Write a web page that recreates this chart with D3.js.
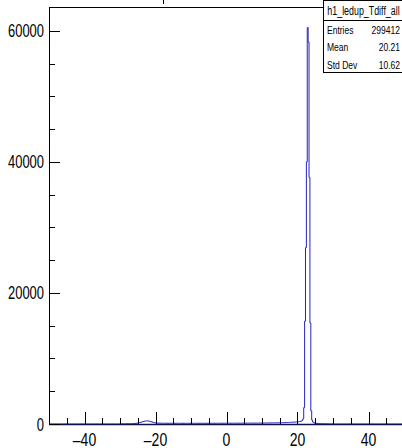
<!DOCTYPE html>
<html><head><meta charset="utf-8">
<script src="https://cdn.jsdelivr.net/npm/d3@7"></script>
<style>
html,body{margin:0;padding:0;background:#fff;}
svg{display:block;}
text{font-family:"Liberation Sans",Arial,sans-serif;}
</style></head>
<body>
<script>
// ---- data ----
const histName = "h1_ledup_Tdiff_all";
const xRange = [-50, 50];
const binWidth = 0.25;
const binStart = -30;            // low edge of first listed bin
const counts = [
  // -30 .. -25
  20,25,20,30,25,30,35,30,40,35,45,40,50,55,60,70,80,90,110,130,
  // -25 .. -20
  160,190,220,260,300,340,380,420,450,470,480,470,450,420,380,330,290,250,210,180,
  // -20 .. -15
  160,150,140,130,130,120,125,120,115,120,115,110,120,115,110,115,110,120,115,110,
  // -15 .. -10
  110,115,110,105,110,115,110,105,110,100,105,110,105,100,110,105,100,105,110,105,
  // -10 .. -5
  100,105,110,105,100,110,105,100,110,105,100,110,115,105,110,100,110,105,110,115,
  // -5 .. 0
  110,105,115,110,105,110,115,110,120,115,110,115,120,110,115,120,115,110,120,115,
  // 0 .. 5
  120,115,125,120,115,120,125,120,115,125,120,130,125,120,130,125,120,130,125,130,
  // 5 .. 10
  130,125,135,130,125,135,130,140,135,130,140,135,145,140,135,145,140,150,145,140,
  // 10 .. 15
  150,145,155,150,160,155,150,160,165,160,170,165,175,170,180,175,185,180,190,185,
  // 15 .. 20
  195,190,200,210,205,215,220,230,225,240,250,245,260,270,265,280,290,300,310,320,
  // 20 .. 25
  330,350,370,400,450,550,800,2500,15700,26900,40000,60500,58300,37600,15400,2000,600,300,200,150,
  // 25 .. 30
  120,100,90,80,70,60,55,50,45,40,35,30,30,25,25,20,20,15,15,10
];
const yMax = 63630;
const xMajorTicks = [-40, -20, 0, 20, 40];
const xMinorTicks = [-45,-35,-30,-25,-15,-10,-5,5,10,15,25,30,35,45];
const yMajorTicks = [0, 20000, 40000, 60000];
const yMinorTicks = [5000,10000,15000,25000,30000,35000,45000,50000,55000];
const statLabels = ["Entries", "Mean", "Std Dev"];
const statValues = ["299412", "20.21", "10.62"];

// ---- layout ----
const W = 402, H = 448;
const frame = {left: 49, right: 404, top: 7, bottom: 424};
const svg = d3.select("body").append("svg").attr("width", W).attr("height", H);

const x = d3.scaleLinear().domain(xRange).range([frame.left, frame.right]);
const y = d3.scaleLinear().domain([0, yMax]).range([frame.bottom, frame.top]);

// condensed text helper (narrow sans look)
function ntext(parent, tx, ty, s, anchor, size, sx) {
  return parent.append("text")
    .attr("transform", `translate(${tx},${ty}) scale(${sx},1)`)
    .attr("text-anchor", anchor).attr("font-size", size).text(s);
}

// full set of bins over range
const nBins = Math.round((xRange[1] - xRange[0]) / binWidth);
const startIdx = Math.round((binStart - xRange[0]) / binWidth);
const bins = d3.range(nBins).map(i => {
  const j = i - startIdx;
  return {x0: xRange[0] + i * binWidth, v: (j >= 0 && j < counts.length) ? counts[j] : 0};
});
const pts = bins.map(b => [b.x0, b.v]);
pts.push([xRange[1], 0]);

svg.append("clipPath").attr("id", "fc").append("rect")
  .attr("x", frame.left).attr("y", frame.top - 1)
  .attr("width", frame.right - frame.left).attr("height", frame.bottom - frame.top + 2);

// histogram
const line = d3.line().x(d => x(d[0])).y(d => y(d[1])).curve(d3.curveStepAfter);
svg.append("path").datum(pts).attr("clip-path", "url(#fc)")
  .attr("d", line).attr("fill", "none").attr("stroke", "#2424c0").attr("stroke-width", 1);

// frame
const g = svg.append("g").attr("stroke", "#000").attr("stroke-width", 1).attr("fill", "none");
g.append("line").attr("x1", frame.left + 0.5).attr("x2", frame.left + 0.5).attr("y1", frame.top).attr("y2", frame.bottom + 1);
g.append("line").attr("x1", frame.left).attr("x2", frame.right).attr("y1", frame.top + 0.5).attr("y2", frame.top + 0.5);
g.append("line").attr("x1", frame.left).attr("x2", frame.right).attr("y1", frame.bottom + 0.5).attr("y2", frame.bottom + 0.5).attr("stroke", "#10104a").attr("stroke-width", 1.6);

// y ticks
yMajorTicks.forEach(v => g.append("line").attr("x1", frame.left).attr("x2", frame.left + 11)
  .attr("y1", Math.round(y(v)) + 0.5).attr("y2", Math.round(y(v)) + 0.5));
yMinorTicks.forEach(v => g.append("line").attr("x1", frame.left).attr("x2", frame.left + 6)
  .attr("y1", Math.round(y(v)) + 0.5).attr("y2", Math.round(y(v)) + 0.5));
// x ticks
xMajorTicks.forEach(v => g.append("line").attr("x1", Math.round(x(v)) + 0.5).attr("x2", Math.round(x(v)) + 0.5)
  .attr("y1", frame.bottom).attr("y2", frame.bottom - 12));
xMinorTicks.forEach(v => g.append("line").attr("x1", Math.round(x(v)) + 0.5).attr("x2", Math.round(x(v)) + 0.5)
  .attr("y1", frame.bottom).attr("y2", frame.bottom - 6));

// tick labels
yMajorTicks.forEach(v => ntext(svg, frame.left - 5, y(v) + 6.5, String(v), "end", 17.5, 0.74));
xMajorTicks.forEach(v => ntext(svg, x(v), 446, v < 0 ? "\u2013" + Math.abs(v) : String(v), "middle", 17.5, 0.8));

// title remnant (title is cut off above the canvas)
svg.append("line").attr("x1", 163.5).attr("x2", 163.5).attr("y1", 0).attr("y2", 4).attr("stroke", "#000");

// stats box
const sb = {x: 323, y: 0.5, w: 90, rowH: 17.5, titleH: 19.5};
const sg = svg.append("g");
const sbH = sb.titleH + statLabels.length * sb.rowH;
sg.append("rect").attr("x", sb.x + 0.5).attr("y", sb.y).attr("width", sb.w).attr("height", sbH)
  .attr("fill", "#fff").attr("stroke", "#000");
sg.append("line").attr("x1", sb.x).attr("x2", sb.x + sb.w).attr("y1", sb.y + sb.titleH + 0.5).attr("y2", sb.y + sb.titleH + 0.5).attr("stroke", "#000");
ntext(sg, 363.5, sb.y + 14.5, histName, "middle", 12.5, 0.71);
statLabels.forEach((l, i) => {
  const cy = sb.y + sb.titleH + sb.rowH * i + sb.rowH / 2 + 5;
  ntext(sg, sb.x + 4, cy, l, "start", 11.5, 0.74);
  ntext(sg, 400, cy, statValues[i], "end", 11.5, 0.74);
});
</script>
</body></html>
